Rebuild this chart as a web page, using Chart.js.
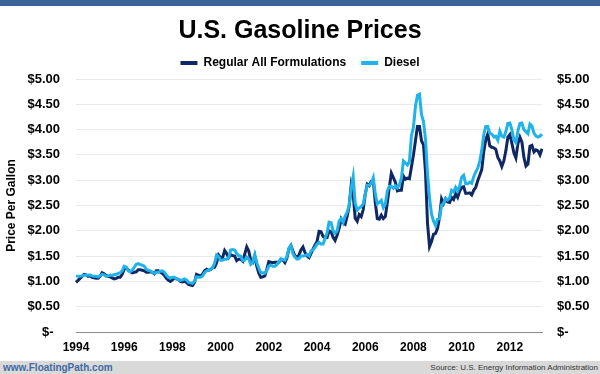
<!DOCTYPE html>
<html>
<head>
    <title>U.S. Gasoline Prices</title>
    <script src="https://cdn.jsdelivr.net/npm/chart.js"></script>
    <style>
        body { margin: 0; background: #fff; }
        #wrap { position: relative; width: 600px; height: 374px; overflow: hidden; font-family: 'Liberation Sans', Arial, sans-serif; }
        #topbar { position: absolute; left: 0; top: 0; width: 600px; height: 6px; background: #3b6396; }
        #footer { position: absolute; left: 0; top: 361px; width: 600px; height: 13px; background: #d9d9d9; }
        #site { position: absolute; left: 3px; top: 0; line-height: 13px; font-size: 10px; font-weight: bold; color: #4169a3; }
        #source { position: absolute; right: 2px; top: 0; line-height: 13px; font-size: 8px; color: #333; }
    </style>
</head>
<body>
<div id="wrap">
    <canvas id="myChart" width="600" height="374"></canvas>
    <div id="topbar"></div>
    <div id="footer">
        <span id="site">www.FloatingPath.com</span>
        <span id="source">Source: U.S. Energy Information Administration</span>
    </div>
</div>
<script>
    // monthly averages, Apr 1994 .. Aug 2013
    const startYear = 1994, startMonth = 4;
    const yearLabels = ['1994', '1996', '1998', '2000', '2002', '2004', '2006', '2008', '2010', '2012'];

    const regular = [
        0.98, 1.02, 1.06, 1.10, 1.14, 1.13, 1.10, 1.11, 1.08,
        1.07, 1.06, 1.06, 1.10, 1.17, 1.15, 1.12, 1.10, 1.09, 1.07, 1.05, 1.06,
        1.08, 1.08, 1.14, 1.24, 1.27, 1.23, 1.19, 1.17, 1.18, 1.19, 1.23, 1.23,
        1.22, 1.21, 1.18, 1.18, 1.19, 1.18, 1.15, 1.21, 1.21, 1.18, 1.16, 1.12,
        1.06, 1.02, 1.00, 1.03, 1.06, 1.05, 1.04, 1.00, 0.99, 1.00, 0.98, 0.94,
        0.93, 0.92, 0.98, 1.14, 1.12, 1.11, 1.14, 1.21, 1.24, 1.22, 1.23, 1.27,
        1.28, 1.37, 1.52, 1.47, 1.47, 1.61, 1.55, 1.47, 1.53, 1.51, 1.50, 1.41,
        1.44, 1.44, 1.40, 1.54, 1.68, 1.60, 1.42, 1.38, 1.50, 1.30, 1.16, 1.08,
        1.09, 1.11, 1.24, 1.39, 1.38, 1.37, 1.38, 1.38, 1.38, 1.43, 1.42, 1.37,
        1.46, 1.64, 1.71, 1.60, 1.50, 1.49, 1.52, 1.62, 1.68, 1.57, 1.50, 1.47,
        1.55, 1.64, 1.72, 1.79, 1.99, 1.98, 1.89, 1.87, 1.87, 2.00, 1.98, 1.87,
        1.81, 1.91, 2.05, 2.23, 2.16, 2.13, 2.29, 2.49, 2.90, 2.72, 2.25, 2.19,
        2.32, 2.28, 2.42, 2.72, 2.92, 2.89, 2.98, 2.99, 2.56, 2.24, 2.23, 2.31,
        2.24, 2.28, 2.56, 2.86, 3.14, 3.05, 2.96, 2.79, 2.80, 2.80, 3.08, 3.02,
        3.04, 3.03, 3.26, 3.50, 3.78, 4.06, 4.06, 3.78, 3.70, 3.17, 2.15, 1.69,
        1.79, 1.93, 1.95, 2.05, 2.27, 2.63, 2.54, 2.63, 2.57, 2.56, 2.66, 2.62,
        2.73, 2.66, 2.78, 2.86, 2.87, 2.74, 2.74, 2.75, 2.71, 2.80, 2.86, 2.99,
        3.10, 3.21, 3.56, 3.80, 3.91, 3.68, 3.65, 3.64, 3.61, 3.45, 3.38, 3.27,
        3.38, 3.58, 3.85, 3.90, 3.73, 3.54, 3.44, 3.72, 3.85, 3.75, 3.45, 3.28,
        3.32, 3.67, 3.69, 3.56, 3.60, 3.58, 3.50, 3.62
    ];

    const diesel = [
        1.11, 1.10, 1.10, 1.11, 1.12, 1.12, 1.12, 1.13, 1.11,
        1.10, 1.10, 1.09, 1.11, 1.14, 1.13, 1.10, 1.11, 1.12, 1.12, 1.13, 1.14,
        1.16, 1.17, 1.21, 1.30, 1.28, 1.21, 1.19, 1.22, 1.28, 1.34, 1.35, 1.33,
        1.32, 1.30, 1.24, 1.22, 1.21, 1.18, 1.16, 1.18, 1.18, 1.20, 1.21, 1.18,
        1.12, 1.08, 1.07, 1.08, 1.08, 1.05, 1.04, 1.02, 1.03, 1.05, 1.03, 0.98,
        0.97, 0.96, 1.00, 1.09, 1.08, 1.08, 1.11, 1.17, 1.21, 1.22, 1.24, 1.27,
        1.36, 1.52, 1.49, 1.42, 1.42, 1.44, 1.44, 1.47, 1.62, 1.63, 1.62, 1.55,
        1.51, 1.50, 1.41, 1.42, 1.48, 1.44, 1.34, 1.38, 1.53, 1.37, 1.26, 1.17,
        1.17, 1.16, 1.22, 1.30, 1.32, 1.30, 1.30, 1.33, 1.39, 1.45, 1.43, 1.42,
        1.49, 1.66, 1.71, 1.55, 1.48, 1.44, 1.45, 1.50, 1.50, 1.51, 1.53, 1.50,
        1.60, 1.62, 1.67, 1.74, 1.77, 1.74, 1.74, 1.85, 1.96, 2.17, 2.16, 2.00,
        1.95, 2.00, 2.19, 2.24, 2.16, 2.29, 2.37, 2.50, 2.85, 3.07, 2.54, 2.41,
        2.45, 2.48, 2.53, 2.73, 2.90, 2.90, 2.94, 3.05, 2.73, 2.53, 2.56, 2.60,
        2.46, 2.53, 2.79, 2.88, 2.88, 2.84, 2.89, 2.85, 2.91, 3.04, 3.38, 3.34,
        3.30, 3.37, 3.88, 4.05, 4.46, 4.68, 4.70, 4.30, 4.16, 3.81, 3.13, 2.65,
        2.33, 2.19, 2.10, 2.23, 2.24, 2.51, 2.54, 2.64, 2.61, 2.65, 2.80, 2.77,
        2.86, 2.79, 2.88, 3.06, 3.10, 2.93, 2.93, 2.96, 2.94, 3.07, 3.16, 3.24,
        3.37, 3.59, 3.90, 4.06, 4.06, 3.93, 3.91, 3.86, 3.87, 3.79, 3.97, 3.87,
        3.85, 3.96, 4.12, 4.13, 4.00, 3.80, 3.74, 3.97, 4.12, 4.13, 4.00, 3.96,
        3.92, 4.11, 4.07, 3.93, 3.87, 3.85, 3.87, 3.91
    ];

    const months = regular.map((v, i) => {
        const m = startMonth - 1 + i;
        return (startYear + Math.floor(m / 12)) + '-' + String(m % 12 + 1).padStart(2, '0');
    });

    const fam = "'Liberation Sans', Arial, sans-serif";
    Chart.defaults.font.family = fam;
    Chart.defaults.color = '#000';

    function money(v, left) {
        if (v === 0) return left ? '$-\u2002' : '$-';
        return '$' + v.toFixed(2);
    }

    const ctx = document.getElementById('myChart').getContext('2d');
    const myChart = new Chart(ctx, {
        type: 'line',
        data: {
            labels: months,
            datasets: [{
                label: 'Diesel',
                data: diesel,
                borderColor: '#1fb3ea',
                backgroundColor: '#1fb3ea',
                borderWidth: 3,
                pointRadius: 0,
                tension: 0,
                yAxisID: 'y'
            }, {
                label: 'Regular All Formulations',
                data: regular,
                borderColor: '#0f2864',
                backgroundColor: '#0f2864',
                borderWidth: 3,
                pointRadius: 0,
                tension: 0,
                yAxisID: 'y'
            }]
        },
        options: {
            responsive: false,
            animation: false,
            layout: { padding: { top: 6, left: 0, right: 0, bottom: 0 } },
            plugins: {
                tooltip: { enabled: false },
                title: {
                    display: true,
                    text: 'U.S. Gasoline Prices',
                    color: '#000',
                    font: { size: 25, weight: 'bold', lineHeight: 1 },
                    padding: { top: 13, bottom: -2 }
                },
                legend: {
                    reverse: true,
                    labels: {
                        boxWidth: 17,
                        boxHeight: 4,
                        padding: 15,
                        color: '#000',
                        font: { size: 12, weight: 'bold' },
                        generateLabels: chart => Chart.defaults.plugins.legend.labels.generateLabels(chart)
                            .map(item => Object.assign(item, { lineWidth: 0 }))
                    }
                }
            },
            scales: {
                x: {
                    grid: { display: false, drawTicks: false },
                    border: { display: true, color: '#8c8c8c', width: 1 },
                    ticks: {
                        autoSkip: false,
                        maxRotation: 0,
                        padding: 8,
                        font: { size: 12, weight: 'bold' },
                        callback: (val, idx) => idx % 24 === 0 ? yearLabels[idx / 24] : null
                    },
                    afterFit: s => { s.height = 42; }
                },
                y: {
                    position: 'left',
                    min: 0,
                    max: 5,
                    ticks: {
                        stepSize: 0.5,
                        padding: 16,
                        font: { size: 13, weight: 'bold' },
                        callback: v => money(v, true)
                    },
                    grid: {
                        drawTicks: false,
                        color: c => c.tick && c.tick.value === 0 ? 'rgba(0,0,0,0)' : '#e9e9e9'
                    },
                    border: { display: false },
                    title: {
                        display: true,
                        text: 'Price Per Gallon',
                        font: { size: 12, weight: 'bold' },
                        padding: { top: 4, bottom: 0 }
                    },
                    afterFit: s => { s.width = 76; }
                },
                y2: {
                    position: 'right',
                    min: 0,
                    max: 5,
                    ticks: {
                        stepSize: 0.5,
                        padding: 15,
                        font: { size: 13, weight: 'bold' },
                        callback: v => money(v, false)
                    },
                    grid: { display: false, drawTicks: false },
                    border: { display: false },
                    afterFit: s => { s.width = 58; }
                }
            }
        }
    });
</script>
</body>
</html>
